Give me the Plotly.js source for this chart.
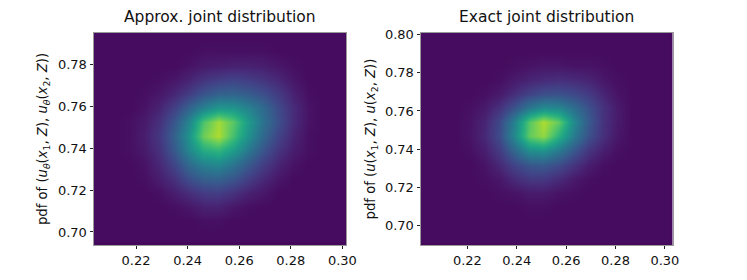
<!DOCTYPE html>
<html><head><meta charset="utf-8">
<script src="https://cdn.plot.ly/plotly-3.0.1.min.js"></script>
<style>html,body{margin:0;padding:0;background:#fff}#c{width:747px;height:280px}</style></head>
<body><div id="c"></div>
<script>
const xTicks=[0.22,0.24,0.26,0.28,0.30];
const xTickLabels=['0.22','0.24','0.26','0.28','0.30'];
const yTicksA=[0.70,0.72,0.74,0.76,0.78];
const yTickLabelsA=['0.70','0.72','0.74','0.76','0.78'];
const yTicksE=[0.70,0.72,0.74,0.76,0.78,0.80];
const yTickLabelsE=['0.70','0.72','0.74','0.76','0.78','0.80'];
const approxX=[.2060,.2118,.2175,.2233,.2290,.2348,.2406,.2463,.2521,.2579,.2636,.2694,.2751,.2809,.2867,.2924,.2982];
const approxY=[.6985,.7052,.7120,.7187,.7254,.7322,.7389,.7456,.7524,.7591,.7658,.7726,.7793,.7860,.7928];
const approxZ=[
[3,3,3,3,3,3,3,3,3,3,3,3,3,3,3,3,3],
[3,3,3,3,3,3,3,4,4,3,3,3,3,3,3,3,3],
[3,3,3,3,3,4,6,9,9,6,4,3,3,3,3,3,3],
[3,3,3,3,4,8,13,17,18,14,9,6,3,3,3,3,3],
[3,3,3,4,8,14,24,30,31,26,18,11,6,3,3,3,3],
[3,3,3,5,11,21,35,44,47,39,28,18,10,5,3,3,3],
[3,3,4,7,14,28,47,62,66,55,40,26,15,8,4,3,3],
[3,3,4,8,16,31,52,78,88,70,50,33,20,10,4,3,3],
[3,3,4,7,14,27,46,72,86,74,54,37,24,12,5,3,3],
[3,3,3,5,10,19,32,44,53,52,44,34,22,12,5,3,3],
[3,3,3,4,6,11,18,26,31,32,29,24,17,9,4,3,3],
[3,3,3,3,4,6,10,15,18,20,18,15,11,6,3,3,3],
[3,3,3,3,3,3,5,7,8,9,9,8,6,4,3,3,3],
[3,3,3,3,3,3,3,4,4,4,4,4,3,3,3,3,3],
[3,3,3,3,3,3,3,3,3,3,3,3,3,3,3,3,3]];
const exactX=[.203,.209,.215,.221,.227,.233,.239,.245,.251,.257,.263,.269,.275,.281,.287,.293,.299];
const exactY=[.6950,.7024,.7098,.7172,.7246,.7319,.7393,.7467,.7541,.7615,.7689,.7762,.7836,.7910,.7984];
const exactZ=[
[3,3,3,3,3,3,3,3,3,3,3,3,3,3,3,3,3],
[3,3,3,3,3,3,3,3,3,3,3,3,3,3,3,3,3],
[3,3,3,3,3,3,3,4,4,3,3,3,3,3,3,3,3],
[3,3,3,3,3,4,5,7,7,5,4,3,3,3,3,3,3],
[3,3,3,3,4,6,12,16,16,12,7,4,3,3,3,3,3],
[3,3,3,3,5,11,20,27,28,23,15,8,4,3,3,3,3],
[3,3,3,4,8,17,33,48,50,40,27,15,8,4,3,3,3],
[3,3,3,5,11,23,47,76,84,64,42,25,13,6,3,3,3],
[3,3,3,5,10,22,44,74,88,76,48,28,14,7,3,3,3],
[3,3,3,4,7,14,26,40,48,46,36,25,14,7,3,3,3],
[3,3,3,3,4,7,13,20,24,25,22,17,10,5,3,3,3],
[3,3,3,3,3,4,7,10,12,13,12,10,6,4,3,3,3],
[3,3,3,3,3,3,4,5,6,6,5,5,4,3,3,3,3],
[3,3,3,3,3,3,3,3,3,3,3,3,3,3,3,3,3],
[3,3,3,3,3,3,3,3,3,3,3,3,3,3,3,3,3]];
const titleA='Approx. joint distribution';
const titleE='Exact joint distribution';
const ylabelA='pdf of (<i>u</i><sub><i>θ</i></sub>(<i>x</i><sub>1</sub>, <i>Z</i>), <i>u</i><sub><i>θ</i></sub>(<i>x</i><sub>2</sub>, <i>Z</i>))';
const ylabelE='pdf of (<i>u</i>(<i>x</i><sub>1</sub>, <i>Z</i>), <i>u</i>(<i>x</i><sub>2</sub>, <i>Z</i>))';

const W=747,H=280,font='DejaVu Sans';
const base=(o)=>Object.assign({showgrid:false,zeroline:false,showline:true,mirror:true,linecolor:'#9a9a9a',linewidth:1,
  ticks:'outside',ticklen:3,tickwidth:1,tickcolor:'#222',tickfont:{family:font,size:13,color:'#111'}},o);
const hm=(x,y,z,xa,ya)=>({type:'heatmap',x,y,z,xaxis:xa,yaxis:ya,colorscale:'Viridis',zmin:0,zmax:100,zsmooth:'best',showscale:false,hoverinfo:'skip'});
const data=[hm(approxX,approxY,approxZ,'x','y'),hm(exactX,exactY,exactZ,'x2','y2')];
const layout={width:W,height:H,margin:{l:0,r:0,t:0,b:0},paper_bgcolor:'#fff',plot_bgcolor:'#46085c',showlegend:false,
 xaxis:base({domain:[93.5/W,346/W],range:[.2035,.3014],tickvals:xTicks,ticktext:xTickLabels,anchor:'y'}),
 yaxis:base({domain:[1-245/H,1-33/H],range:[.6938,.7948],tickvals:yTicksA,ticktext:yTickLabelsA,anchor:'x',
   title:{text:ylabelA,font:{family:font,size:13.2,color:'#111'},standoff:7}}),
 xaxis2:base({domain:[420.5/W,672.5/W],range:[.201,.3031],tickvals:xTicks,ticktext:xTickLabels,anchor:'y2'}),
 yaxis2:base({domain:[1-245/H,1-33/H],range:[.690,.8007],tickvals:yTicksE,ticktext:yTickLabelsE,anchor:'x2',
   title:{text:ylabelE,font:{family:font,size:13.2,color:'#111'},standoff:6}}),
 annotations:[
  {text:titleA,xref:'paper',yref:'paper',x:219.5/W,y:1-28/H,xanchor:'center',yanchor:'bottom',showarrow:false,font:{family:font,size:15.5,color:'#111'}},
  {text:titleE,xref:'paper',yref:'paper',x:546.5/W,y:1-28/H,xanchor:'center',yanchor:'bottom',showarrow:false,font:{family:font,size:15.5,color:'#111'}}]};
Plotly.newPlot('c',data,layout,{displayModeBar:false,staticPlot:true});
</script></body></html>
